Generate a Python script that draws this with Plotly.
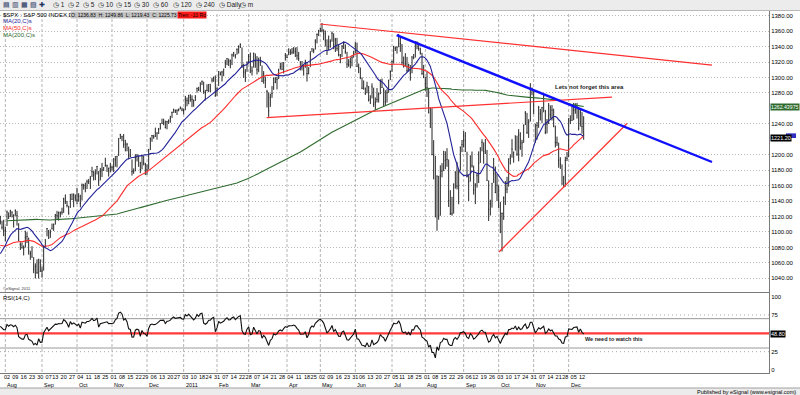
import numpy as np
import pandas as pd
import plotly.graph_objects as go

# ---------------- DATA ----------------
# S&P 500 daily closes used only to warm up the indicators (2009-10-15 .. 2010-07-26)
warmup_close = [
    1096.56, 1087.68, 1097.91, 1091.06, 1081.40, 1092.91, 1079.60, 1066.95, 1063.41, 1042.63, 1066.11, 1036.19,
    1042.88, 1045.41, 1046.50, 1066.63, 1069.30, 1093.08, 1093.01, 1098.51, 1087.24, 1093.48, 1109.30, 1110.32,
    1109.80, 1094.90, 1091.38, 1106.24, 1105.65, 1110.63, 1091.49, 1095.63,
    1108.86, 1109.24, 1099.92, 1105.98, 1103.25, 1091.94, 1095.95, 1102.35, 1106.41, 1114.11, 1107.93, 1109.18,
    1096.08, 1102.47, 1114.05, 1118.02, 1120.59, 1126.48, 1127.78, 1126.20, 1126.42, 1115.10,
    1132.99, 1136.52, 1137.14, 1141.69, 1144.98, 1146.98, 1136.22, 1145.68, 1148.46, 1136.03, 1150.23, 1138.04,
    1116.48, 1091.76, 1096.78, 1092.17, 1097.50, 1084.53, 1073.87,
    1089.19, 1103.32, 1097.28, 1063.11, 1066.19, 1056.74, 1070.52, 1068.13, 1078.47, 1075.51, 1094.87, 1099.51,
    1106.75, 1109.17, 1108.01, 1094.60, 1105.24, 1102.94, 1104.49,
    1115.71, 1118.31, 1118.79, 1122.97, 1138.70, 1138.50, 1140.45, 1145.61, 1150.24, 1149.99, 1150.51, 1159.46,
    1166.21, 1165.83, 1159.90, 1165.81, 1174.17, 1167.72, 1165.73, 1166.59, 1173.22, 1173.27, 1169.43,
    1178.10, 1187.44, 1189.44, 1182.45, 1186.44, 1194.37, 1196.48, 1197.30, 1210.65, 1211.67, 1192.13, 1197.52,
    1207.17, 1205.94, 1208.67, 1217.28, 1212.05, 1183.71, 1191.36, 1206.78, 1186.69,
    1202.26, 1173.60, 1165.87, 1128.15, 1110.88, 1159.73, 1155.79, 1171.67, 1157.44, 1135.68, 1136.94, 1120.80,
    1115.05, 1071.59, 1087.69, 1073.65, 1074.03, 1067.95, 1103.06, 1089.41,
    1070.71, 1098.38, 1102.83, 1064.88, 1050.47, 1062.00, 1055.69, 1086.84, 1091.60, 1089.63, 1115.23, 1114.61,
    1116.04, 1117.51, 1113.20, 1095.31, 1092.04, 1073.69, 1076.76, 1074.57, 1041.24, 1030.71,
    1027.37, 1022.58, 1028.06, 1060.27, 1070.25, 1077.96, 1078.75, 1095.34, 1095.17, 1096.48, 1064.88, 1071.25,
    1083.48, 1069.59, 1093.67, 1102.66, 1115.01,
]

# Charted bars: 2010-07-27 .. 2011-12-13 (daily)
close = [
    1113.84, 1106.13, 1101.53, 1101.60,
    1125.86, 1120.46, 1127.24, 1125.81, 1121.64, 1127.79, 1121.06, 1089.47, 1083.61, 1079.25, 1079.38, 1092.54,
    1094.16, 1075.63, 1071.69, 1067.36, 1051.87, 1055.33, 1047.22, 1064.59, 1048.92, 1049.33,
    1080.29, 1090.10, 1104.51, 1091.84, 1098.87, 1104.18, 1109.55, 1121.90, 1121.10, 1125.07, 1124.66, 1125.59,
    1142.71, 1139.78, 1134.28, 1124.83, 1148.67, 1142.16, 1147.70, 1144.73, 1141.20,
    1146.24, 1137.03, 1160.75, 1159.97, 1158.06, 1165.15, 1165.32, 1169.77, 1178.10, 1173.81, 1176.19, 1184.71,
    1165.90, 1178.17, 1180.26, 1183.08, 1185.62, 1185.64, 1182.45, 1183.78, 1183.26,
    1184.38, 1193.57, 1197.96, 1221.06, 1225.85, 1223.25, 1213.40, 1218.71, 1213.54, 1199.21, 1197.75, 1178.34,
    1178.59, 1196.69, 1199.73, 1197.84, 1180.73, 1198.35, 1189.40, 1187.76, 1180.55,
    1206.07, 1221.53, 1224.71, 1223.12, 1223.75, 1228.28, 1233.00, 1240.40, 1240.46, 1241.59, 1235.23, 1242.87,
    1243.91, 1247.08, 1254.60, 1258.84, 1256.77, 1257.54, 1258.51, 1259.78, 1257.88, 1257.64,
    1271.87, 1270.20, 1276.56, 1273.85, 1271.50, 1269.75, 1274.48, 1285.96, 1283.76, 1293.24, 1295.02, 1281.92,
    1280.26, 1283.35, 1290.84, 1291.18, 1296.63, 1299.54, 1276.34, 1286.12,
    1307.59, 1304.03, 1307.10, 1310.87, 1319.05, 1324.57, 1320.88, 1321.87, 1329.15, 1332.32, 1328.01, 1336.32,
    1340.43, 1343.01, 1315.44, 1307.40, 1306.10, 1319.88, 1327.22,
    1306.33, 1308.44, 1330.97, 1321.15, 1310.13, 1321.82, 1320.02, 1295.11, 1304.28, 1296.39, 1281.87, 1256.88,
    1273.72, 1279.21, 1298.38, 1293.77, 1297.54, 1309.66, 1313.80, 1310.19, 1319.44, 1328.26, 1325.83,
    1332.41, 1332.87, 1332.63, 1335.54, 1333.51, 1328.17, 1324.46, 1314.16, 1314.41, 1314.52, 1319.68, 1305.14,
    1312.62, 1330.36, 1337.38, 1335.25, 1347.24, 1355.66, 1360.48, 1363.61,
    1361.22, 1356.62, 1347.32, 1335.10, 1340.20, 1346.29, 1357.16, 1342.08, 1348.65, 1337.77, 1329.47, 1328.98,
    1340.68, 1343.60, 1333.27, 1317.37, 1316.28, 1320.47, 1325.69, 1331.10, 1345.20,
    1314.55, 1312.94, 1300.16, 1286.17, 1284.94, 1279.56, 1289.00, 1270.98, 1271.83, 1287.87, 1265.42, 1267.64,
    1271.50, 1278.36, 1295.52, 1287.14, 1283.50, 1268.45, 1280.10, 1296.67, 1307.41, 1320.64,
    1339.67, 1337.88, 1339.22, 1353.22, 1343.80, 1319.49, 1313.64, 1317.72, 1308.87, 1316.14, 1305.44, 1326.73,
    1325.84, 1343.80, 1345.02, 1337.43, 1331.94, 1304.89, 1300.67, 1292.28,
    1286.94, 1254.05, 1260.34, 1200.07, 1199.38, 1119.46, 1172.53, 1120.76, 1172.64, 1178.81, 1204.49, 1192.76,
    1193.89, 1140.65, 1123.53, 1123.82, 1162.35, 1177.60, 1159.27, 1176.80, 1210.08, 1212.92, 1218.89,
    1204.42, 1173.97, 1165.24, 1198.62, 1185.90, 1154.23, 1162.27, 1172.87, 1188.68, 1209.11, 1216.01, 1204.09,
    1202.09, 1166.76, 1129.56, 1136.43, 1162.95, 1175.38, 1151.06, 1160.40, 1131.42,
    1099.23, 1123.95, 1144.03, 1164.97, 1155.46, 1194.89, 1195.54, 1207.25, 1203.66, 1224.58, 1200.86, 1225.38,
    1209.88, 1215.39, 1238.25, 1254.19, 1229.05, 1242.00, 1284.59, 1285.09, 1253.30,
    1218.28, 1237.90, 1261.15, 1253.23, 1261.12, 1275.92, 1229.10, 1239.70, 1263.85, 1251.78, 1257.81, 1236.91,
    1216.13, 1215.65, 1192.98, 1188.04, 1161.79, 1158.67, 1192.55, 1195.19, 1246.96,
    1244.58, 1244.28, 1257.08, 1258.47, 1261.01, 1234.35, 1255.19, 1236.47, 1225.73,
]

high = [
    1120.95, 1114.66, 1115.79, 1106.44,
    1127.74, 1125.44, 1128.75, 1126.56, 1123.00, 1129.24, 1127.30, 1111.37, 1086.72, 1086.25, 1082.61, 1101.73,
    1099.77, 1092.75, 1075.63, 1081.58, 1067.36, 1059.38, 1064.44, 1065.15, 1064.53, 1055.14,
    1081.30, 1090.10, 1105.10, 1102.60, 1103.26, 1110.88, 1110.99, 1123.35, 1127.36, 1126.46, 1126.46, 1131.47,
    1144.38, 1148.59, 1140.24, 1133.85, 1148.90, 1149.92, 1150.00, 1148.63, 1157.16,
    1150.30, 1148.16, 1162.76, 1162.33, 1163.87, 1167.73, 1168.68, 1172.58, 1184.38, 1178.89, 1181.20, 1185.53,
    1178.78, 1182.94, 1189.43, 1183.93, 1196.14, 1187.11, 1183.24, 1189.53, 1185.46,
    1195.81, 1198.30, 1198.30, 1221.25, 1227.08, 1224.57, 1226.84, 1218.75, 1215.45, 1210.50, 1207.43, 1194.08,
    1182.29, 1200.65, 1200.66, 1198.94, 1190.83, 1198.87, 1198.87, 1189.40, 1187.40,
    1207.61, 1221.89, 1225.57, 1225.73, 1235.05, 1228.93, 1234.72, 1240.40, 1246.73, 1246.59, 1244.25, 1243.87,
    1245.81, 1250.43, 1255.82, 1259.39, 1258.59, 1258.59, 1259.90, 1262.60, 1261.09, 1259.92,
    1276.17, 1274.12, 1277.63, 1278.17, 1276.83, 1271.52, 1277.25, 1286.87, 1287.94, 1293.24, 1296.06, 1294.60,
    1283.93, 1291.21, 1291.26, 1291.26, 1299.74, 1301.29, 1302.67, 1287.17,
    1308.05, 1307.61, 1308.60, 1311.00, 1322.85, 1324.87, 1324.57, 1323.21, 1330.79, 1332.96, 1330.58, 1337.61,
    1341.50, 1344.07, 1338.91, 1317.91, 1310.91, 1320.61, 1330.43,
    1332.28, 1314.39, 1332.28, 1331.08, 1327.68, 1325.74, 1326.82, 1315.72, 1308.35, 1301.33, 1284.09, 1280.91,
    1278.94, 1288.88, 1299.96, 1300.58, 1300.58, 1311.34, 1319.18, 1319.74, 1319.45, 1331.74, 1329.77,
    1337.85, 1336.74, 1338.21, 1339.46, 1338.80, 1339.46, 1333.16, 1321.41, 1321.35, 1316.79, 1323.02, 1319.38,
    1312.93, 1334.11, 1337.49, 1337.55, 1349.55, 1357.10, 1361.71, 1364.56,
    1370.58, 1362.46, 1360.84, 1349.44, 1354.36, 1349.44, 1359.44, 1357.22, 1351.33, 1351.33, 1343.33, 1330.42,
    1341.82, 1346.82, 1342.99, 1333.27, 1323.72, 1325.88, 1328.51, 1334.62, 1345.20,
    1345.20, 1318.03, 1312.94, 1300.16, 1296.22, 1287.04, 1294.54, 1288.96, 1277.04, 1292.50, 1286.79, 1274.11,
    1286.32, 1280.42, 1297.62, 1298.61, 1286.79, 1283.50, 1284.93, 1296.80, 1309.21, 1321.97,
    1341.01, 1340.12, 1340.12, 1356.48, 1353.22, 1343.31, 1327.16, 1331.48, 1326.68, 1317.84, 1316.14, 1327.25,
    1330.43, 1347.00, 1346.92, 1345.02, 1338.51, 1331.91, 1316.32, 1300.67,
    1307.38, 1286.56, 1261.20, 1260.23, 1218.89, 1198.48, 1172.88, 1172.64, 1186.29, 1189.04, 1204.49, 1204.49,
    1208.47, 1193.89, 1154.14, 1145.49, 1162.35, 1178.47, 1190.68, 1181.23, 1210.28, 1219.11, 1230.71,
    1229.29, 1203.90, 1173.97, 1198.62, 1204.23, 1185.90, 1162.59, 1176.41, 1204.40, 1209.11, 1220.06, 1216.01,
    1220.39, 1206.30, 1166.76, 1141.72, 1162.95, 1195.86, 1184.79, 1175.09, 1160.40,
    1138.99, 1125.15, 1146.07, 1165.55, 1171.40, 1194.91, 1200.43, 1220.25, 1203.66, 1224.61, 1224.58, 1233.10,
    1229.10, 1219.36, 1239.03, 1256.55, 1254.19, 1246.03, 1292.66, 1287.08, 1284.96,
    1240.30, 1242.48, 1263.21, 1259.29, 1261.70, 1277.55, 1258.04, 1246.28, 1266.98, 1263.85, 1264.25, 1259.61,
    1237.73, 1223.51, 1215.62, 1196.81, 1187.48, 1172.66, 1197.35, 1203.67, 1247.11,
    1251.09, 1264.25, 1267.06, 1266.73, 1267.06, 1260.87, 1258.25, 1255.10, 1249.86,
]

low = [
    1109.78, 1103.11, 1094.65, 1088.01,
    1107.66, 1116.76, 1119.46, 1118.81, 1105.78, 1120.91, 1108.35, 1088.01, 1076.69, 1079.00, 1069.63, 1079.81,
    1085.76, 1070.66, 1063.91, 1067.08, 1046.68, 1039.83, 1045.94, 1039.70, 1048.79, 1040.88,
    1050.00, 1080.39, 1094.35, 1091.15, 1092.37, 1103.47, 1101.39, 1109.55, 1115.58, 1114.63, 1118.88, 1122.43,
    1124.75, 1136.22, 1131.87, 1122.31, 1131.15, 1142.00, 1132.09, 1140.26, 1136.08,
    1139.42, 1131.87, 1140.68, 1154.85, 1151.41, 1155.58, 1162.02, 1155.71, 1171.32, 1166.71, 1167.12, 1174.55,
    1159.71, 1166.74, 1171.17, 1178.99, 1184.74, 1177.72, 1171.70, 1177.10, 1179.70,
    1177.65, 1184.56, 1183.56, 1198.34, 1220.29, 1217.55, 1208.94, 1204.33, 1204.49, 1194.08, 1197.15, 1173.00,
    1175.29, 1178.56, 1191.29, 1184.29, 1176.03, 1181.09, 1186.26, 1173.64, 1174.14,
    1180.80, 1206.08, 1216.82, 1220.67, 1223.25, 1219.50, 1226.85, 1232.58, 1240.34, 1238.17, 1234.01, 1232.85,
    1239.87, 1241.51, 1247.82, 1254.19, 1254.05, 1251.48, 1256.22, 1258.84, 1256.32, 1252.21,
    1257.62, 1262.66, 1265.36, 1268.57, 1261.70, 1262.18, 1269.62, 1280.42, 1282.65, 1281.24, 1290.16, 1278.92,
    1270.26, 1282.07, 1281.07, 1281.07, 1293.55, 1294.41, 1275.10, 1276.31,
    1289.14, 1302.62, 1294.83, 1301.67, 1312.31, 1316.03, 1314.89, 1311.94, 1316.08, 1326.90, 1324.61, 1329.51,
    1331.00, 1338.12, 1312.33, 1299.55, 1294.26, 1307.34, 1318.14,
    1306.33, 1302.58, 1312.75, 1312.59, 1303.99, 1306.86, 1315.09, 1294.21, 1291.99, 1286.37, 1261.12, 1249.05,
    1261.96, 1273.67, 1284.04, 1292.67, 1284.48, 1297.99, 1310.15, 1310.19, 1305.26, 1321.89, 1325.03,
    1328.89, 1329.10, 1330.03, 1330.67, 1326.56, 1322.94, 1321.41, 1309.19, 1309.19, 1302.42, 1312.59, 1294.70,
    1303.97, 1313.45, 1332.82, 1331.47, 1336.16, 1344.12, 1353.60, 1358.69,
    1358.59, 1348.30, 1340.03, 1329.17, 1335.58, 1338.64, 1346.29, 1336.61, 1333.04, 1334.50, 1327.32, 1318.51,
    1326.59, 1336.89, 1330.67, 1312.33, 1313.87, 1311.80, 1314.41, 1325.69, 1331.10,
    1313.71, 1305.61, 1297.90, 1284.89, 1284.74, 1277.42, 1279.56, 1268.95, 1265.64, 1272.93, 1261.90, 1258.07,
    1267.64, 1267.56, 1278.40, 1286.79, 1262.66, 1263.54, 1267.53, 1280.10, 1296.67, 1307.41,
    1318.00, 1334.30, 1330.92, 1339.22, 1333.20, 1316.42, 1313.33, 1314.15, 1306.51, 1307.61, 1295.92, 1305.44,
    1323.65, 1325.84, 1336.61, 1334.65, 1329.59, 1303.49, 1299.16, 1282.86,
    1274.73, 1254.03, 1234.56, 1199.54, 1168.09, 1119.28, 1101.54, 1115.80, 1121.09, 1170.74, 1178.81, 1181.27,
    1184.36, 1132.43, 1122.05, 1121.09, 1123.82, 1156.14, 1155.10, 1135.91, 1179.42, 1203.40, 1209.35,
    1203.85, 1170.56, 1140.13, 1165.24, 1183.34, 1148.37, 1136.07, 1157.44, 1163.39, 1189.44, 1204.46, 1188.38,
    1201.19, 1166.45, 1114.22, 1121.36, 1131.51, 1163.50, 1150.26, 1139.93, 1131.34,
    1098.92, 1074.77, 1115.68, 1134.95, 1150.26, 1158.67, 1187.36, 1196.16, 1189.69, 1205.41, 1198.55, 1191.48,
    1206.31, 1197.34, 1215.39, 1238.43, 1226.79, 1221.77, 1242.89, 1277.01, 1253.16,
    1215.62, 1219.62, 1234.81, 1244.33, 1240.75, 1254.99, 1226.64, 1227.70, 1239.80, 1246.68, 1244.34, 1235.67,
    1209.43, 1211.36, 1183.16, 1181.65, 1161.79, 1158.66, 1158.67, 1191.80, 1196.72,
    1239.73, 1244.28, 1244.80, 1253.03, 1246.86, 1231.47, 1236.47, 1227.25, 1219.43,
]

first_bar_date = "2010-07-27"
last_bar_date = "2011-12-13"
market_holidays = ["2010-09-06", "2010-11-25", "2010-12-24", "2011-01-17", "2011-02-21",
                   "2011-04-22", "2011-05-30", "2011-07-04", "2011-09-05", "2011-11-24"]

# Hand-drawn trend lines: [bar index, price] end points
trend_red_top = [[191.8, 1369.3], [427.0, 1316.0]]
trend_blue = [[237.8, 1355.0], [427.0, 1190.6]]
trend_red_neck = [[159.8, 1248.0], [367.0, 1274.7]]
trend_red_support = [[299.2, 1074.1], [376.0, 1240.5]]
rsi_level_line = 50

price_ticks = [1040, 1060, 1080, 1100, 1120, 1140, 1160, 1180, 1200, 1240, 1280, 1300, 1320, 1340, 1360, 1380]
rsi_ticks = [0, 25, 75, 100]

last_open = 1236.83
ma200_box_text = "1262.43975"
ma_box_text = "1221.20"
ma_box_value = 1221.20

# ---------------- INDICATORS ----------------
n = len(close)
x = np.arange(n)
dates = pd.bdate_range(first_bar_date, last_bar_date)
dates = dates[~dates.isin(pd.to_datetime(market_holidays))]
dates = dates[:n]

all_c = pd.Series(warmup_close + close, dtype=float)
ma20 = all_c.rolling(20).mean().values[-n:]
ma50 = all_c.rolling(50).mean().values[-n:]
ma200 = all_c.rolling(200).mean().values[-n:]

c = all_c.values
d = np.diff(c)
g = np.where(d > 0, d, 0.0)
ls = np.where(d < 0, -d, 0.0)
ag, al = g[:14].mean(), ls[:14].mean()
rsi_all = np.full(len(c), np.nan)
rsi_all[14] = 100 - 100 / (1 + ag / al)
for i in range(14, len(d)):
    ag = (ag * 13 + g[i]) / 14
    al = (al * 13 + ls[i]) / 14
    rsi_all[i + 1] = 100 - 100 / (1 + ag / al)
rsi = rsi_all[-n:]

# ticks: first trading day of each week, from August 2010
week_key = [(dd.isocalendar()[0], dd.isocalendar()[1]) for dd in dates]
tick_idx = [i for i in range(n) if (i == 0 or week_key[i] != week_key[i - 1]) and dates[i] >= pd.Timestamp("2010-08-01")]
tick_txt = [dates[i].strftime("%d") for i in tick_idx]
month_idx = [i for i in range(1, n) if dates[i].month != dates[i - 1].month]
month_txt = [dates[i].strftime("%Y") if dates[i].month == 1 else dates[i].strftime("%b") for i in month_idx]

# ---------------- FIGURE ----------------
W, H = 800, 395
def py(p):  # pixel row -> paper y
    return 1 - p / H
def px(p):
    return p / W

FONT = "Liberation Sans, Arial, sans-serif"
X_RANGE = [-0.2, 461.2]
X_DOM = [0, px(769)]

fig = go.Figure()

fig.add_trace(go.Ohlc(x=x, open=close, high=high, low=low, close=close,
                      increasing=dict(line=dict(color="#262626", width=1)),
                      decreasing=dict(line=dict(color="#262626", width=1)),
                      tickwidth=0.3, xaxis="x", yaxis="y", hoverinfo="skip"))
fig.add_trace(go.Scatter(x=x, y=ma200, mode="lines", line=dict(color="#2f6b2f", width=1.1), xaxis="x", yaxis="y"))
fig.add_trace(go.Scatter(x=x, y=ma50, mode="lines", line=dict(color="#ff2b2b", width=1.1), xaxis="x", yaxis="y"))
fig.add_trace(go.Scatter(x=x, y=ma20, mode="lines", line=dict(color="#23239a", width=1.1), xaxis="x", yaxis="y"))

for tl, col, wd in [(trend_red_top, "#ff3030", 1.2), (trend_red_neck, "#ff3030", 1.2),
                    (trend_red_support, "#ff3030", 1.2), (trend_blue, "#1010ff", 2.4)]:
    fig.add_trace(go.Scatter(x=[p[0] for p in tl], y=[p[1] for p in tl], mode="lines",
                             line=dict(color=col, width=wd), xaxis="x", yaxis="y"))

fig.add_trace(go.Scatter(x=X_RANGE, y=[rsi_level_line] * 2, mode="lines",
                         line=dict(color="#ff3838", width=2.2), xaxis="x2", yaxis="y2"))
fig.add_trace(go.Scatter(x=x, y=rsi, mode="lines", line=dict(color="#111111", width=1.1),
                         xaxis="x2", yaxis="y2"))

shapes = []
# toolbar and status bar
shapes.append(dict(type="rect", xref="paper", yref="paper", x0=0, x1=1, y0=py(11), y1=1,
                   fillcolor="#ececec", line=dict(width=0)))
shapes.append(dict(type="line", xref="paper", yref="paper", x0=0, x1=1, y0=py(10.5), y1=py(10.5),
                   line=dict(color="#b8b8b8", width=1)))
shapes.append(dict(type="rect", xref="paper", yref="paper", x0=0, x1=1, y0=0, y1=py(388),
                   fillcolor="#ececec", line=dict(width=0)))
shapes.append(dict(type="line", xref="paper", yref="paper", x0=0, x1=1, y0=py(388), y1=py(388),
                   line=dict(color="#a0a0a0", width=1)))
# month separators
for mi in month_idx:
    shapes.append(dict(type="line", xref="x", yref="paper", x0=mi - 1, x1=mi - 1, y0=py(372), y1=py(12),
                       line=dict(color="#b4b4b4", width=1, dash="3px,2px"), layer="below"))
# RSI reference lines
for lv, dash, colr in [(70, "solid", "#9a9a9a"), (30, "solid", "#9a9a9a"), (75, "1px,3px", "#a8a8a8"), (25, "1px,3px", "#a8a8a8")]:
    shapes.append(dict(type="line", xref="paper", yref="y2", x0=0, x1=X_DOM[1], y0=lv, y1=lv,
                       line=dict(color=colr, width=1, dash=dash), layer="below"))
# blue value marker peeking out behind the black price box
shapes.append(dict(type="rect", xref="paper", yref="y", x0=px(786), x1=px(796),
                   y0=ma_box_value + 0.5, y1=ma_box_value + 6.5, fillcolor="#3030c0", line=dict(width=0)))

ann = []
def text(xp, yp, s, size=6, color="#000000", xanchor="left", bg=None, bold=False, yref="paper", yv=None):
    a = dict(xref="paper", yref=yref, x=px(xp), y=(py(yp) if yv is None else yv), text=(f"<b>{s}</b>" if bold else s),
             showarrow=False, xanchor=xanchor, yanchor="middle", font=dict(family=FONT, size=size, color=color),
             borderpad=0)
    if bg:
        a["bgcolor"] = bg
    ann.append(a)

# toolbar
text(2, 5, "▤ ▥ ▦ ▧ ✚", size=7, color="#203060")
for lab, xp in [("1", 52), ("2", 67), ("5", 82), ("10", 97), ("15", 115), ("30", 133), ("60", 152),
                ("120", 172), ("240", 195), ("Daily", 218), ("m", 239)]:
    text(xp, 5, "◷ " + lab, size=6.5, color="#222222")
# symbol header
text(2, 15, "$SPX : S&P 500 INDEX,D", size=6)
text(70, 15, f"O: {last_open:.2f}  H: {high[-1]:.2f}  L: {low[-1]:.2f}  C: {close[-1]:.2f}", size=5, bg="#c4c4c4")
text(177, 15, "Tren: -10 Rd", size=5, bg="#ff1a1a")
# legend
text(2, 21.5, "MA(20,C)s", size=6, color="#23239a")
text(2, 28, "MA(50,C)s", size=6, color="#ff2b2b")
text(2, 34.5, "MA(200,C)s", size=6, color="#2f6b2f")
text(2, 288, "©eSignal, 2011", size=4, color="#333333")
text(2, 297.5, "RSI(14,C)", size=6)
# notes
text(589, 87, "Lets not forget this area", size=6, xanchor="center", color="#222222", bold=True)
text(584, 339, "We need to watch this", size=5.5, color="#222222", bold=True)
# value boxes on the right axis
text(770, 0, ma200_box_text, size=5.2, color="#ffffff", bg="#2f6b2f", yref="y", yv=ma200[-1])
text(770, 0, ma_box_text, size=5.5, color="#ffffff", bg="#000000", yref="y", yv=ma_box_value)
text(770, 0, f"{rsi[-1]:.2f}", size=5.5, color="#ffffff", bg="#000000", yref="y2", yv=rsi[-1])
# month labels
for mi, mt in zip(month_idx, month_txt):
    ann.append(dict(xref="x2", yref="paper", x=mi - 1, y=py(384.5), text=mt, showarrow=False,
                    xanchor="left", yanchor="middle", font=dict(family=FONT, size=5.5, color="#000")))
text(797, 391.5, "Published by eSignal (www.esignal.com)", size=5.5, xanchor="right")

fig.update_layout(
    width=W, height=H, margin=dict(l=0, r=0, t=0, b=0),
    paper_bgcolor="white", plot_bgcolor="white", showlegend=False,
    shapes=shapes, annotations=ann,
    xaxis=dict(domain=X_DOM, anchor="y", range=X_RANGE, showticklabels=False, showgrid=False,
               zeroline=False, showline=True, linecolor="#7a7a7a", mirror=True,
               rangeslider=dict(visible=False), fixedrange=True),
    xaxis2=dict(domain=X_DOM, anchor="y2", range=X_RANGE, matches="x", tickmode="array",
                tickvals=tick_idx, ticktext=tick_txt, ticks="", tickangle=0, ticklabelstandoff=-2,
                showgrid=False, zeroline=False,
                showline=True, linecolor="#7a7a7a", mirror=True,
                tickfont=dict(family=FONT, size=5.5, color="#000")),
    yaxis=dict(domain=[py(292), py(11)], range=[1022.3, 1386.1], side="right", tickmode="array",
               tickvals=price_ticks, ticktext=[f"{v:.2f}" for v in price_ticks], ticks="",
               showgrid=True, gridcolor="#b9b9b9", griddash="1px,2px", gridwidth=1, zeroline=False,
               showline=True, linecolor="#7a7a7a", tickfont=dict(family=FONT, size=6, color="#000")),
    yaxis2=dict(domain=[py(373), py(293)], range=[-4.1, 105], side="right", tickmode="array",
                tickvals=rsi_ticks, ticktext=[str(v) for v in rsi_ticks], ticks="", showgrid=False,
                zeroline=False, showline=True, linecolor="#7a7a7a",
                tickfont=dict(family=FONT, size=6, color="#000")),
)

fig.write_html("out.html", config={"displayModeBar": False},
               post_script="document.body.style.margin='0px';document.body.style.overflow='hidden';")
